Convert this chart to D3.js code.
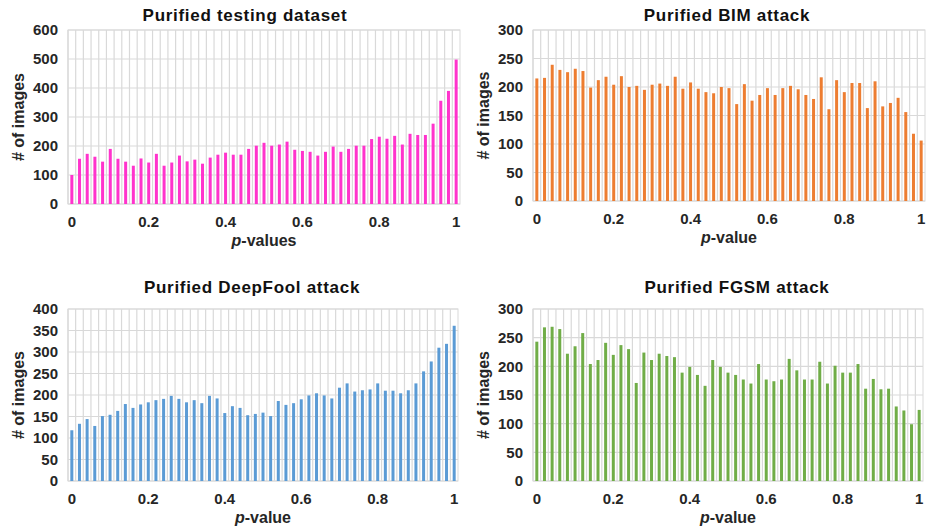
<!DOCTYPE html>
<html>
<head>
<meta charset="utf-8">
<script src="https://cdn.jsdelivr.net/npm/d3@7"></script>
<style>
  body { margin: 0; background: #fff; }
  text { font-family: "Liberation Sans", Arial, sans-serif; }
</style>
</head>
<body>
<div id="chart"></div>
<script>
// p-value bins (categories)
const pValues = [0, 0.02, 0.04, 0.06, 0.08, 0.1, 0.12, 0.14, 0.16, 0.18,
  0.2, 0.22, 0.24, 0.26, 0.28, 0.3, 0.32, 0.34, 0.36, 0.38,
  0.4, 0.42, 0.44, 0.46, 0.48, 0.5, 0.52, 0.54, 0.56, 0.58,
  0.6, 0.62, 0.64, 0.66, 0.68, 0.7, 0.72, 0.74, 0.76, 0.78,
  0.8, 0.82, 0.84, 0.86, 0.88, 0.9, 0.92, 0.94, 0.96, 0.98, 1]
const xTickLabels = [0, 0.2, 0.4, 0.6, 0.8, 1]

// series values (# of images)
const testingCounts = [100, 156, 173, 163, 146, 190, 156, 146, 132, 157,
  143, 173, 132, 143, 167, 147, 153, 139, 160, 170,
  177, 170, 170, 190, 201, 211, 201, 205, 215, 187,
  183, 180, 167, 180, 198, 180, 190, 201, 201, 224,
  232, 225, 235, 205, 242, 238, 238, 277, 356, 390, 498]
const bimCounts = [215, 216, 239, 230, 226, 232, 228, 199, 212, 218,
  204, 219, 200, 202, 195, 204, 206, 202, 218, 197,
  208, 197, 191, 189, 200, 198, 170, 205, 176, 186,
  198, 186, 198, 202, 196, 186, 179, 217, 161, 212,
  191, 207, 207, 163, 210, 166, 172, 181, 156, 118, 106]
const deepfoolCounts = [118, 133, 144, 128, 151, 154, 163, 179, 170, 178,
  183, 188, 191, 198, 191, 183, 188, 181, 198, 192,
  158, 174, 170, 153, 156, 159, 151, 186, 177, 181,
  190, 199, 204, 199, 192, 217, 227, 208, 211, 213,
  227, 210, 210, 204, 211, 227, 255, 278, 310, 319, 361]
const fgsmCounts = [243, 268, 269, 265, 222, 235, 258, 204, 211, 241,
  220, 237, 230, 171, 224, 211, 222, 218, 216, 189,
  199, 185, 166, 211, 199, 189, 185, 177, 170, 204,
  177, 174, 177, 213, 193, 177, 177, 208, 170, 201,
  189, 189, 204, 161, 178, 160, 161, 130, 123, 99, 124]

const width = 927
const height = 529

const svg = d3.select('#chart').append('svg')
  .attr('width', width)
  .attr('height', height)

const panels = [
  {title: 'Purified testing dataset', values: testingCounts, color: '#ff33cc', yMax: 600, yStep: 100,
   left: 68, right: 460, top: 30, bottom: 204, xLabel: '-values', titleX: 245, titleY: 21},
  {title: 'Purified BIM attack', values: bimCounts, color: '#ed7d31', yMax: 300, yStep: 50,
   left: 533, right: 925, top: 30, bottom: 201, xLabel: '-value', titleX: 727, titleY: 21},
  {title: 'Purified DeepFool attack', values: deepfoolCounts, color: '#5b9bd5', yMax: 400, yStep: 50,
   left: 68, right: 458, top: 309, bottom: 481, xLabel: '-value', titleX: 252, titleY: 293},
  {title: 'Purified FGSM attack', values: fgsmCounts, color: '#70ad47', yMax: 300, yStep: 50,
   left: 533, right: 923, top: 309, bottom: 481, xLabel: '-value', titleX: 737, titleY: 293}
]

function drawPanel(p) {
  const g = svg.append('g')

  const x = d3.scaleBand()
    .domain(pValues)
    .range([p.left, p.right])

  const y = d3.scaleLinear()
    .domain([0, p.yMax])
    .range([p.bottom, p.top])

  // plot frame & vertical gridlines at band edges
  g.append('rect')
    .attr('x', p.left).attr('y', p.top)
    .attr('width', p.right - p.left).attr('height', p.bottom - p.top)
    .attr('fill', '#fff')
    .attr('stroke', '#d9d9d9')

  g.append('g')
    .selectAll('line')
    .data(pValues)
    .enter()
    .append('line')
    .attr('x1', d => x(d)).attr('x2', d => x(d))
    .attr('y1', p.top).attr('y2', p.bottom)
    .attr('stroke', '#d9d9d9')
    .attr('stroke-width', 1.2)

  // horizontal gridlines + y tick labels
  const yTicks = d3.range(0, p.yMax + 1, p.yStep)
  g.append('g')
    .selectAll('line')
    .data(yTicks)
    .enter()
    .append('line')
    .attr('x1', p.left).attr('x2', p.right)
    .attr('y1', d => y(d)).attr('y2', d => y(d))
    .attr('stroke', '#d9d9d9')
    .attr('stroke-width', 1.2)

  g.append('g')
    .selectAll('text')
    .data(yTicks)
    .enter()
    .append('text')
    .attr('x', p.left - 10)
    .attr('y', d => y(d))
    .attr('dy', '0.36em')
    .attr('text-anchor', 'end')
    .attr('font-size', 15)
    .attr('font-weight', 'bold')
    .attr('fill', '#262626')
    .text(d => d)

  // bars
  const barW = 3
  g.append('g')
    .selectAll('rect')
    .data(p.values)
    .enter()
    .append('rect')
    .attr('x', (d, i) => x(pValues[i]) + x.bandwidth() / 2 - barW / 2)
    .attr('y', d => y(d))
    .attr('width', barW)
    .attr('height', d => y(0) - y(d))
    .attr('fill', p.color)

  // x tick labels
  g.append('g')
    .selectAll('text')
    .data(xTickLabels)
    .enter()
    .append('text')
    .attr('x', d => x(d) + x.bandwidth() / 2)
    .attr('y', p.bottom + 23)
    .attr('text-anchor', 'middle')
    .attr('font-size', 15)
    .attr('font-weight', 'bold')
    .attr('fill', '#262626')
    .text(d => d)

  // x axis title
  const xt = g.append('text')
    .attr('x', (p.left + p.right) / 2)
    .attr('y', p.bottom + 42)
    .attr('text-anchor', 'middle')
    .attr('font-size', 16)
    .attr('font-weight', 'bold')
    .attr('fill', '#262626')
  xt.append('tspan').attr('font-style', 'italic').text('p')
  xt.append('tspan').text(p.xLabel)

  // y axis title
  g.append('text')
    .attr('transform', 'translate(' + (p.left - 44) + ',' + ((p.top + p.bottom) / 2) + ') rotate(-90)')
    .attr('text-anchor', 'middle')
    .attr('font-size', 16)
    .attr('font-weight', 'bold')
    .attr('fill', '#262626')
    .text('# of images')

  // title
  g.append('text')
    .attr('x', p.titleX)
    .attr('y', p.titleY)
    .attr('text-anchor', 'middle')
    .attr('font-size', 17)
    .attr('font-weight', 'bold')
    .attr('letter-spacing', '0.7px')
    .attr('fill', '#111')
    .text(p.title)
}

panels.forEach(drawPanel)
</script>
</body>
</html>
